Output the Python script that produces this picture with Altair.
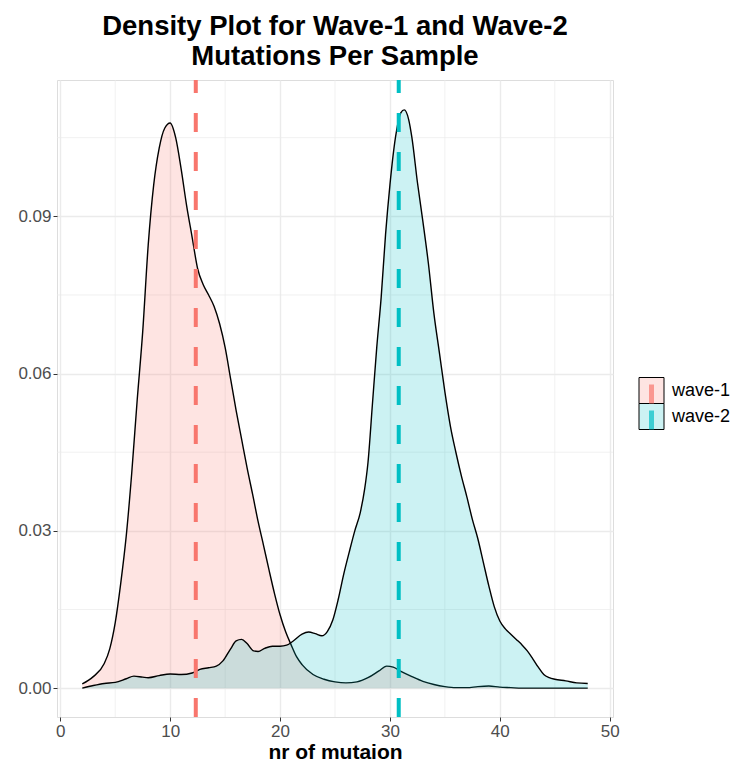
import altair as alt
import pandas as pd

# ---- density estimates (nr of mutations vs. density) ----
W1_X = [2.0, 3.0, 4.0, 4.5, 5.0, 5.5, 6.0, 6.5, 7.0, 7.5, 8.0, 8.5, 9.0, 9.5, 10.0,
        10.5, 11.0, 11.5, 12.0, 12.5, 13.0, 13.5, 14.0, 14.5, 15.0, 15.5, 16.0, 16.5,
        17.0, 17.5, 18.0, 18.5, 19.0, 19.5, 20.0, 20.5, 21.0, 21.5, 22.0, 23.0, 24.0,
        25.0, 26.0, 27.0, 28.0, 29.0, 29.7, 30.3, 31.0, 32.0, 33.0, 34.0, 35.0, 36.0,
        37.0, 38.0, 39.0, 40.0, 41.0, 42.0, 44.0, 46.0, 48.0]
W1_Y = [0.0008, 0.0022, 0.0047, 0.0075, 0.0125, 0.0200, 0.0290, 0.0410, 0.0550, 0.0680,
        0.0845, 0.0960, 0.1030, 0.1068, 0.1078, 0.1050, 0.0990, 0.0920, 0.0860, 0.0800,
        0.0770, 0.0750, 0.0728, 0.0695, 0.0650, 0.0590, 0.0530, 0.0475, 0.0420, 0.0370,
        0.0318, 0.0272, 0.0225, 0.0180, 0.0140, 0.0108, 0.0083, 0.0060, 0.0045, 0.0026,
        0.0017, 0.0012, 0.0010, 0.0012, 0.0020, 0.0033, 0.0042, 0.0040, 0.0032, 0.0022,
        0.0013, 0.0007, 0.0003, 0.0001, 0.0001, 0.0003, 0.0004, 0.0002, 0.0001, 0.0000,
        0.0000, 0.0000, 0.0000]

W2_X = [2.0, 3.0, 4.0, 5.0, 6.0, 6.7, 7.5, 8.0, 9.0, 10.0, 11.0, 12.0, 12.7, 13.5, 14.2,
        14.8, 15.5, 16.0, 16.5, 17.0, 17.6, 18.0, 18.6, 19.3, 20.0, 20.6, 21.2, 22.0,
        22.6, 23.2, 23.8, 24.3, 24.8, 25.3, 25.8, 26.3, 26.8, 27.3, 27.7, 28.0, 28.4,
        28.8, 29.2, 29.6, 30.0, 30.5, 31.0, 31.3, 31.7, 32.0, 32.5, 33.0, 33.5, 34.0,
        34.5, 35.0, 35.5, 36.0, 36.5, 37.0, 37.5, 38.0, 38.5, 39.0, 39.5, 40.0, 40.5,
        41.0, 41.5, 42.0, 42.5, 43.0, 43.5, 44.0, 44.5, 45.0, 46.0, 47.0, 48.0]
W2_Y = [0.0000, 0.0005, 0.0009, 0.0011, 0.0018, 0.0023, 0.0021, 0.0020, 0.0024, 0.0027,
        0.0026, 0.0029, 0.0036, 0.0039, 0.0042, 0.0052, 0.0075, 0.0090, 0.0093, 0.0085,
        0.0071, 0.0070, 0.0076, 0.0080, 0.0080, 0.0082, 0.0090, 0.0103, 0.0107, 0.0104,
        0.0100, 0.0108, 0.0130, 0.0170, 0.0218, 0.0260, 0.0300, 0.0335, 0.0380, 0.0430,
        0.0540, 0.0650, 0.0745, 0.0865, 0.0960, 0.1050, 0.1098, 0.1103, 0.1085, 0.1050,
        0.0965, 0.0890, 0.0810, 0.0715, 0.0640, 0.0565, 0.0500, 0.0450, 0.0405, 0.0365,
        0.0322, 0.0285, 0.0240, 0.0195, 0.0155, 0.0128, 0.0113, 0.0103, 0.0093, 0.0083,
        0.0071, 0.0056, 0.0040, 0.0026, 0.0020, 0.0017, 0.0014, 0.0010, 0.0009]

GROUPS = ["wave-1", "wave-2"]
MEANS = [12.33, 30.8]
COLORS = ["#F8766D", "#00BFC4"]

X_MAJOR = [0, 10, 20, 30, 40, 50]
X_MINOR = [5, 15, 25, 35, 45]
Y_MAJOR = [0.0, 0.03, 0.06, 0.09]
Y_MINOR = [0.015, 0.045, 0.075, 0.105]
X_DOMAIN = [-0.3, 50.3]
Y_DOMAIN = [-0.0055, 0.116]

FONT = "Liberation Sans"
GRID = "#EBEBEB"
DARK = "#333333"
TICK_TEXT = "#4D4D4D"

dens = pd.DataFrame({
    "x": W1_X + W2_X,
    "density": W1_Y + W2_Y,
    "wave": [GROUPS[0]] * len(W1_X) + [GROUPS[1]] * len(W2_X),
})
means = pd.DataFrame({"wave": GROUPS, "mean": MEANS})

xs = alt.Scale(domain=X_DOMAIN, nice=False, zero=False)
ys = alt.Scale(domain=Y_DOMAIN, nice=False, zero=False)
cs = alt.Scale(domain=GROUPS, range=COLORS)

axis_common = dict(
    labelFont=FONT, labelFontSize=17, labelColor=TICK_TEXT,
    tickColor=DARK, tickSize=4, tickWidth=1, domain=False,
    gridColor=GRID, gridWidth=1.4, labelPadding=2,
)

x_enc = alt.X("x:Q", scale=xs, axis=alt.Axis(
    values=X_MAJOR, title="nr of mutaion", titleFont=FONT, titleFontSize=21,
    titleFontWeight="bold", titleColor="black", titlePadding=2, **axis_common))
y_enc = alt.Y("density:Q", scale=ys, stack=None, axis=alt.Axis(
    values=Y_MAJOR, format=".2f", title=None, **axis_common))

# minor grid lines
minor_x = alt.Chart(pd.DataFrame({"v": X_MINOR})).mark_rule(
    color=GRID, strokeWidth=0.7).encode(x=alt.X("v:Q", scale=xs, title="nr of mutaion"))
minor_y = alt.Chart(pd.DataFrame({"v": Y_MINOR})).mark_rule(
    color=GRID, strokeWidth=0.7).encode(y=alt.Y("v:Q", scale=ys, title=None))


def density_layers(group):
    base = alt.Chart(dens).transform_filter(alt.datum.wave == group)
    area = base.mark_area(fillOpacity=0.2, interpolate="monotone").encode(
        x=x_enc, y=y_enc, y2=alt.Y2(datum=0),
        color=alt.Color("wave:N", scale=cs, legend=None))
    line = base.mark_line(color="black", strokeWidth=1.4, interpolate="monotone").encode(
        x=x_enc, y=y_enc)
    return [area, line]


vlines = alt.Chart(means).mark_rule(strokeWidth=4, strokeDash=[19, 20]).encode(
    x=alt.X("mean:Q", scale=xs, title="nr of mutaion"),
    y=alt.Y(datum=Y_DOMAIN[0], scale=ys, title=None),
    y2=alt.Y2(datum=Y_DOMAIN[1]),
    color=alt.Color("wave:N", scale=cs, legend=None),
)

main = alt.layer(
    minor_x, minor_y, *density_layers(GROUPS[0]), *density_layers(GROUPS[1]), vlines
).properties(
    width=556, height=637,
    title=alt.Title(
        ["Density Plot for Wave-1 and Wave-2", "Mutations Per Sample"],
        font=FONT, fontSize=27.5, fontWeight="bold", color="black",
        anchor="middle", frame="group", offset=8, lineHeight=30),
)

# legend: filled key boxes with the dashed-line key inside
leg_df = pd.DataFrame({"wave": GROUPS})
ly = alt.Y("wave:N", axis=None,
           scale=alt.Scale(domain=GROUPS, range=[297.5, 349.5], paddingInner=0, paddingOuter=0))
boxes = alt.Chart(leg_df).mark_rect(fillOpacity=0.2, stroke="black", strokeWidth=1).encode(
    x=alt.value(0), x2=alt.value(25), y=ly,
    fill=alt.Fill("wave:N", scale=cs, legend=None))
keys = alt.Chart(leg_df).mark_tick(orient="vertical", thickness=5, size=19, yOffset=3.5).encode(
    x=alt.value(12.5), y=ly, color=alt.Color("wave:N", scale=cs, legend=None))
labels = alt.Chart(leg_df).mark_text(
    align="left", baseline="middle", font=FONT, fontSize=18, color="black").encode(
    x=alt.value(33), y=ly, text="wave:N")
legend = alt.layer(boxes, keys, labels).properties(
    width=85, height=637, view=alt.ViewBackground(strokeOpacity=0))

chart = alt.hconcat(main, legend, spacing=26, bounds="flush").properties(
    padding={"left": 17, "top": 12, "right": 2, "bottom": 2},
).configure_view(stroke=DARK, strokeWidth=1).configure(background="white")

chart.save("out.html", embed_options={"renderer": "svg", "actions": False})
